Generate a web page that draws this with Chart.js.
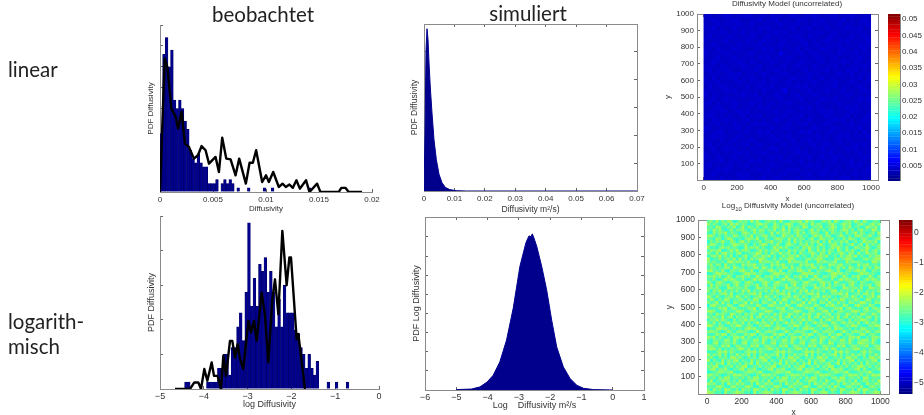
<!DOCTYPE html>
<html><head><meta charset="utf-8">
<script src="https://cdn.jsdelivr.net/npm/chart.js@4"></script>
<style>
html,body{margin:0;padding:0;background:#fff;width:924px;height:415px;overflow:hidden}
#stage{position:relative;width:924px;height:415px;overflow:hidden;filter:blur(.35px)}
canvas{position:absolute}
.big{position:absolute;font:20.5px/20px Lato,sans-serif;color:#222;white-space:nowrap}
.head{transform:translateX(-50%)}
.small{position:absolute;font:8px/10px "Liberation Sans",sans-serif;color:#333;white-space:nowrap;transform:translateX(-50%)}
.small sub{font-size:6px;line-height:0;vertical-align:-3px}
</style></head><body>
<div id="stage">
<div class="big head" style="left:263px;top:4px">beobachtet</div>
<div class="big head" style="left:528px;top:3px">simuliert</div>
<div class="big" style="left:8px;top:59px">linear</div>
<div class="big" style="left:8px;top:311px">logarith-</div>
<div class="big" style="left:8px;top:336px">misch</div>
<div class="small" style="left:787px;top:-1px">Diffusivity Model (uncorrelated)</div>
<div class="small" style="left:788px;top:201px">Log<sub>10</sub> Diffusivity Model (uncorrelated)</div>
<canvas id="c1"></canvas><canvas id="c2"></canvas><canvas id="c3"></canvas>
<canvas id="c4"></canvas><canvas id="c5"></canvas><canvas id="c6"></canvas>
<canvas id="cb5"></canvas><canvas id="cb6"></canvas>
</div>
<script>
// observed histograms: counts per bin
const obsLinBinWidth = 0.00025;
const obsLinCounts = [14,33,37,30,34,22,20,22,20,17,15,10,8,7,9,7,6,6,2,2,2,3,0,2,3,2,3,2,0,1,0,0,0,1,0,0,0,0,0,1,0,0,1,0,0,0,0,0,0,0,0,0,0,0,0,0,1];
const obsLogBinWidth = 0.0625;
const obsLogStart = -5;
const obsLogCounts = [0,0,0,0,0,0,0,0,0,2,2,0,0,0,0,0,0,2,2,2,2,6,6,10,10,4,12,12,18,22,14,28,48,24,32,24,36,34,38,28,34,28,18,26,18,30,22,22,22,17,16,12,10,6,10,6,4,8,0,0,0,2,0,0,2,0,0,0,2];
// observed black curves
const obsLinLineX = [0,.00044,.00069,.00107,.00148,.0017,.00204,.00235,.00273,.0032,.00358,.00392,.0043,.00462,.00524,.00556,.00587,.00625,.00666,.00713,.00747,.0081,.00845,.00876,.00907,.00964,.01,.01027,.01068,.01121,.01156,.01187,.01221,.01253,.01287,.01319,.01378,.0141,.01482,.01513,.01686,.01711,.01749,.0178,.01906];
const obsLinLineY = [0,32,30,20,18,15.2,19.2,11.6,10.8,8,8.8,11,10,6.8,8.4,4.8,13,8,7.8,4,8,2,7,7,10,2.4,4,2.4,4.8,1.2,2,1.2,1.8,1,2.8,.8,2.8,0,2,0,0,1,1,0,0];
const obsLogLineX = [-4.658,-4.315,-4.216,-4.125,-4.064,-3.988,-3.919,-3.82,-3.767,-3.683,-3.607,-3.554,-3.493,-3.402,-3.349,-3.288,-3.227,-3.174,-3.097,-2.983,-2.922,-2.854,-2.793,-2.679,-2.603,-2.527,-2.435,-2.375,-2.298,-2.207,-2.108,-2.047,-2.009,-1.88,-1.842,-1.69];
const obsLogLineY = [0,0,1.9,1.9,0,5.8,2.4,7.7,3.8,3.8,0,9.6,3.8,13.9,13.9,9.1,13,8.7,5.8,19.7,16.3,19.7,13.9,27.9,21.2,7.7,25.9,31.7,21.6,45.7,30,38,38,14.4,15.9,0];
// simulated PDFs
const simLinX = [0,.00033,.00066,.00099,.00132,.00165,.00208,.00263,.00329,.00406,.00494,.00592,.00702,.00845,.0106,.0139,.07];
const simLinY = [0,2.08,5.07,5.83,5.44,4.6,3.7,2.8,1.84,1.13,.6,.3,.13,.05,.012,0,0];
const simLogX = [-5,-4.515,-4.248,-4.013,-3.82,-3.607,-3.393,-3.179,-2.966,-2.774,-2.677,-2.61,-2.57,-2.53,-2.432,-2.271,-2.111,-1.951,-1.79,-1.577,-1.363,-1.15,-.936,-.615,0];
const simLogY = [.02,.05,.16,.42,.77,1.47,2.61,4.28,6.46,7.7,8.05,8.02,8.16,8.0,7.53,6.47,5.23,3.65,2.25,1.2,.6,.25,.09,.02,0];
// tick labels
const xTicks1 = [0,.005,.01,.015,.02];
const yTicks1 = [0,5,10,15,20,25,30,35,40];
const xTicks2 = [-5,-4,-3,-2,-1,0];
const yTicks2 = [0,10,20,30,40,50];
const xTicks3 = [0,.01,.02,.03,.04,.05,.06,.07];
const yTicks3 = [0,1,2,3,4,5,6];
const xTicks4 = [-6,-5,-4,-3,-2,-1,0,1];
const yTicks4 = [0,1,2,3,4,5,6,7,8,9];
const mapXTicks = [0,200,400,600,800,1000];
const mapYTicks = [100,200,300,400,500,600,700,800,900,1000];
const cbTicks5 = [.005,.01,.015,.02,.025,.03,.035,.04,.045,.05];
const cbTicks6 = [-5,-4,-3,-2,-1,0];
// field texture estimates, one digit per cell
const linField = [
"3323343233432332433234323343233423343233","2343233432233423342332433233423334232343","3234233343243233234333423243332342332334",
"3342323423332434323234233423243233433423","2333432334233323343423332334323423233332","3423234323343234233233432433234332342343",
"3233342332432343323423343232343233423234","2343233243333423234332334234233342332433","3324323433223343423233423323433234323342",
"4233343232343233326323342343233243334233","3234233423332434233343233234323423233432","2343323343243233432332343323423334324323",
"3332432334323423323423433243233423233343","3423343223334323343323234233342332434232","2333234342332343233432323433232343342333",
"3242333423343232433234333423423323233424","3334232343233342332342323343233432343233","2423433232423433423333434232333423323432",
"3332343423323243233623233423343234232343","4233232334334232343323423343232333432323","2342343323233423234233342323433423323434",
"3423233432343323423343233234232343233323","3234323423332434233232343423323233434232","2333432343423233342343233323434232343323",
"3432323234233423233423342332343323423234","3243343323423232343233323423233434232343","2334232433234343232342334232343223342333",
"4323323342332323423433232343323432333423","3234423233423434233232343423234233323242","2343332343232333423342323334232343423334",
"3332423423343223343234233423332342332323","3423233233423432323423332342343233234342","2342343423233323442333423233423323434233",
"3233232343423343232323434232334232323423","4324323423332323434233233423423433232343","2333423332343423323342342323233423342332",
"3423234233423233433223233434233232343423","3234343223233434232343423233342332323234","2343232343423233323423233423433423234333","3332423234332342343233423332323234423232"];
const logField = [
"471926385027461938205746193027568194620375819403672951840362","826304719582640137956208413795026841937502683149570268415937",
"350971264803917526048139627084351970264813596027481350296481","619483027156830492761538049271685304917260583149726058341972",
"208375916420795183640291837560492713865029174360815927403618","794150632871462905378164029537186240395817602493150786249305",
"531860497213058649127305864192736504812963570418296305741268","062749318506927134805692471380926153748061925374802613957480",
"487316025974381062597143820695317482605931478260359147082635","913058472630194758261039584721360859427160385942701863594027",
"275690148392675014837256904183725609418372650941837206591483","640827935168023459716084293571608324951760823495176082394571",
"158493627040591276384915027368491520736849125073684915207368","902371564819260735984026173598402167359840216735984012673598",
"736215089476538120947653812094765381209476358120947653120984","481760923510847692351084769235108476923510874692351084692351",
"265043871962504387196250438719265043871962504837196250837196","793528106437952810643795281064379528106437952810463795810643",
"014986735201498673520149867352014986735201489673520149673520","658371294065837129406583712940658371294065387129406583129406",
"327104958632710495863271049586327104958632170495863271495863","840695213784069521378406952137840695213784609521378406521378",
"192763480591276348059127634805912763480591726348059127348059","563820197456382019745638201974563820197456832019745638019745",
"708491625370849162537084916253708491625370489162537084162537","246157839024615783902461578390246157839024165783902461783902",
"951730468295173046829517304682951730468295713046829517046829","385062971438506297143850629714385062971438056297143850297143",
"624918350762491835076249183507624918350762941835076249835076","079543286107954328610795432861079543286107594328610795328610",
"413276905841327690584132769058413276905841237690584132690584","896105742389610574238961057423896105742389160574238961574238",
"250847319625084731962508473196250847319625804731962508731962","737429168073742916807374291680737429168073472916807374168073",
"164938520716493852071649385207164938520716943852071649852071","528061493752806149375280614937528061493752086149375280493752",
"983275016498327501649832750164983275016498237501649832016498","041796832504179683250417968325041796832504719683250417832504",
"676520394167652039416765203941676520394167562039416765394167","312849705631284970563128497056312849705631824970563128705631",
"859163042785916304278591630427859163042785196304278591042785","405632871940563287194056328719405632871940635287194056871940",
"217904653821790465382179046538217904653821970465382179653821","763418590276341859027634185902763418590276431859027634590276",
"598270416359827041635982704163598270416359287041635982416359","120586937412058693741205869374120586937412508693741205937412",
"836491705283649170528364917052836491705283469170528364705283","472053618947205361894720536189472053618947025361894720618947",
"905318264790531826479053182647905318264790351826479053264790","261749083526174908352617490835261749083526714908352617083526",
"648902537164890253716489025371648902537164980253716489537164","379165820437916582043791658204379165820437196582043791820437",
"013587469201358746920135874692013587469201538746920135469201","784620153978462015397846201539784620153978642015397846153978",
"526073981452607398145260739814526073981452067398145260981452","190348762519034876251903487625190348762519304876251903762519",
"857216094385721609438572160943857216094385271609438572094385","342795106834279510683427951068342795106834729510683427106834",
"608451973260845197326084519732608451973260485197326084973260","975130824697513082469751308246975130824697153082469751824697"];
const cbLevels = 64;

function jet(t){
  const c=v=>Math.round(255*Math.max(0,Math.min(1,v)));
  return `rgb(${c(Math.min(4*t-1.5,-4*t+4.5))},${c(Math.min(4*t-.5,-4*t+3.5))},${c(Math.min(4*t+.5,-4*t+2.5))})`;
}
const TICK='#666', AXIS='#8a8a8a', TXT='#333';
const fmt=v=>String(v).replace('-','\u2212');

function axis(position,min,max,ticks,o={}){
  return {type:'linear',position,min,max,offset:false,
    afterBuildTicks:s=>{s.ticks=ticks.map(v=>({value:v}));},
    afterFit:s=>{ if(position==='bottom'||position==='top') s.height=o.size||0; else s.width=o.size||0; s.paddingLeft=s.paddingRight=s.paddingTop=s.paddingBottom=0;},
    border:{display:true,color:AXIS,width:1},
    grid:{offset:false,drawOnChartArea:false,drawTicks:o.noTicks?false:true,tickLength:-3,color:TICK,tickWidth:1},
    ticks:{display:!!o.labels,autoSkip:false,maxRotation:0,minRotation:0,padding:o.pad||6,color:TXT,font:{family:'Liberation Sans',size:o.font||8},callback:fmt},
    title:o.title?{display:true,text:o.title,color:TXT,padding:0,font:{family:'Liberation Sans',size:o.titleFont||o.font||8}}:{display:false}
  };
}
function make(id,p,yw,xh,padT,padR,config){
  const cv=document.getElementById(id);
  const W=yw+(p.r-p.l)+padR, H=padT+(p.b-p.t)+xh;
  cv.style.left=(p.l-yw)+'px'; cv.style.top=(p.t-padT)+'px';
  cv.width=W; cv.height=H; cv.style.width=W+'px'; cv.style.height=H+'px';
  config.options=Object.assign({responsive:false,animation:false,devicePixelRatio:1,
    layout:{padding:{top:padT,right:padR,left:0,bottom:0}},
    plugins:{legend:{display:false},title:{display:false},tooltip:{enabled:false}}},config.options);
  return new Chart(cv,config);
}
const NAVY='#00008c';
function hist(x0,w,counts){return counts.map((c,i)=>({x:x0+(i+.5)*w,y:c}));}
function pts(xs,ys){return xs.map((x,i)=>({x,y:ys[i]}));}
function histChart(id,p,yw,xh,bars,line,xs,ys,xr,yr,xt,yTitle,f){
  make(id,p,yw,xh,8,16,{type:'bar',data:{datasets:[
    {type:'line',data:line,borderColor:'#000',borderWidth:2.4,pointRadius:0,tension:0,fill:false,order:0,xAxisID:'x',yAxisID:'y',borderJoinStyle:'round'},
    {type:'bar',data:bars,backgroundColor:NAVY,borderColor:'#000060',borderWidth:.5,barPercentage:1,categoryPercentage:1,order:1,xAxisID:'x',yAxisID:'y'}
  ]},options:{scales:{
    x:axis('bottom',xr[0],xr[1],xs,{size:xh,labels:true,title:xt,font:f,pad:5.5}),
    y:axis('left',yr[0],yr[1],ys,{size:yw,title:yTitle,titleFont:f})
  }}});
}
function simChart(id,p,yw,xh,line,xs,ys,xr,yr,xt,yTitle,f,tf){
  make(id,p,yw,xh,8,16,{type:'line',data:{datasets:[
    {data:line,borderColor:NAVY,backgroundColor:NAVY,borderWidth:1,pointRadius:0,tension:0,fill:'origin'}
  ]},options:{scales:{
    x:axis('bottom',xr[0],xr[1],xs,{size:xh,labels:true,title:xt,font:f,titleFont:tf,pad:5.5}),
    y:axis('left',yr[0],yr[1],ys,{size:yw,title:yTitle,titleFont:tf}),
    x2:axis('top',xr[0],xr[1],xs,{}),
    y2:axis('right',yr[0],yr[1],ys,{})
  }}});
}
function mapChart(id,p,yw,xh,rows,base,toColor,xr,f,r){
  const nR=rows.length,nC=rows[0].length,cw=1000/nC,ch=998/nR,data=[],colors=[];
  rows.forEach((row,j)=>{for(let i=0;i<nC;i++){
    data.push({x:(i+.5)*cw,y:1000-(j+.5)*ch}); colors.push(toColor(+row[i]));
  }});
  make(id,p,yw,xh,6,16,{type:'scatter',data:{datasets:[
    {data,pointStyle:'rect',pointRadius:r,pointBorderWidth:0,pointBackgroundColor:colors,showLine:false,order:0},
    {type:'line',data:[{x:0,y:1000},{x:1000,y:1000}],fill:{value:2},backgroundColor:base,borderWidth:0,pointRadius:0,order:1}
  ]},options:{scales:{
    x:axis('bottom',xr[0],xr[1],mapXTicks,{size:xh,labels:true,title:'x',font:f,pad:6}),
    y:axis('left',2,1000,mapYTicks,{size:yw,labels:true,title:'y',font:f,pad:6}),
    x2:axis('top',xr[0],xr[1],mapXTicks,{}),
    y2:axis('right',2,1000,mapYTicks,{})
  }}});
}
function barChart(id,p,lo,hi,ticks,f){
  const step=(hi-lo)/cbLevels,data=[],colors=[];
  for(let i=0;i<cbLevels;i++){data.push({x:1,y:lo+(i+.5)*step});colors.push(jet((i+.5)/cbLevels));}
  make(id,p,0,0,2,0,{type:'bar',data:{datasets:[
    {data,backgroundColor:colors,borderWidth:0,barPercentage:1.12,categoryPercentage:1}
  ]},options:{indexAxis:'y',scales:{
    y:axis('right',lo,hi,ticks,{size:24,labels:true,font:f,pad:5}),
    x:axis('bottom',0,1,[],{noTicks:true}),
    x2:axis('top',0,1,[],{noTicks:true}),
    y2:axis('left',lo,hi,[],{noTicks:true})
  }}});
}
// colour bars: the value axis occupies the extra width on the right
function cbPlot(p){return {l:p.l,t:p.t,r:p.r+24,b:p.b};}
histChart('c1',{l:160,t:25,r:372,b:192},14,22,hist(0,obsLinBinWidth,obsLinCounts),pts(obsLinLineX,obsLinLineY),xTicks1,yTicks1,[0,.02],[0,40],'Diffusivity','PDF Diffusivity',8);
histChart('c2',{l:160,t:216,r:379,b:389},14,21,hist(obsLogStart,obsLogBinWidth,obsLogCounts),pts(obsLogLineX,obsLogLineY),xTicks2,yTicks2,[-5,0],[0,50],'log Diffusivity','PDF Diffusivity',9);
simChart('c3',{l:424,t:24,r:637,b:191},14,24,pts(simLinX,simLinY),xTicks3,yTicks3,[0,.07],[0,6],'Diffusivity m\u00b2/s)','PDF Diffusivity',8,8.5);
simChart('c4',{l:425,t:217,r:644,b:390},14,21,pts(simLogX,simLogY),xTicks4,yTicks4,[-6,1],[0,9.04],'Log \u00a0 \u00a0Diffusivity m\u00b2/s','PDF Log Diffusivity',9,9);
mapChart('c5',{l:697,t:14,r:878,b:180},34,24,linField,'#0000c8',d=>jet((.0025+d*.0005-.0003)/.0513),[-40,1042],8,3.05);
mapChart('c6',{l:698,t:220,r:889,b:394},33,24,logField,'#6ce694',d=>jet((-2.96+d*.08+5.375)/5.785),[-52,1050],8.5,2.15);
barChart('cb5',cbPlot({l:888,t:14,r:900,b:181}),.0003,.0516,cbTicks5,8);
barChart('cb6',cbPlot({l:899,t:220,r:912,b:394}),-5.375,.41,cbTicks6,8.5);
</script>
</body></html>
